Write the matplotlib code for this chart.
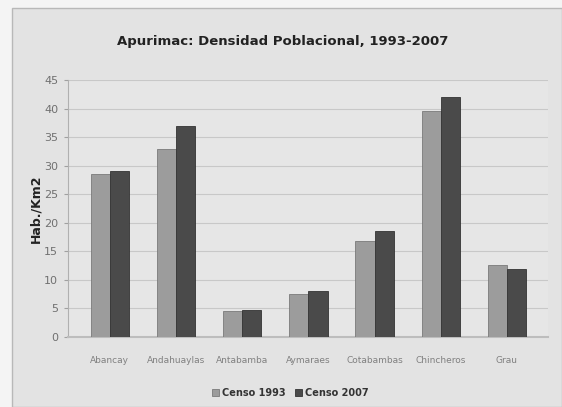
import matplotlib
matplotlib.use("Agg")
import matplotlib.pyplot as plt
import numpy as np
from matplotlib.patches import Rectangle

categories = ["Abancay", "Andahuaylas", "Antabamba", "Aymaraes", "Cotabambas", "Chincheros", "Grau"]
censo_1993 = [28.5, 33.0, 4.6, 7.6, 16.8, 39.5, 12.6]
censo_2007 = [29.0, 37.0, 4.7, 8.0, 18.5, 42.0, 11.9]
yticks = [0, 5, 10, 15, 20, 25, 30, 35, 40, 45]
title = "Apurimac: Densidad Poblacional, 1993-2007"
ylabel = "Hab./Km2"
legend_labels = ["Censo 1993", "Censo 2007"]

fig = plt.figure(figsize=(5.62, 4.07), dpi=100)
fig.patch.set_facecolor("#f4f4f4")
# chart frame
frame = Rectangle((12/562, 0.0), 1 - 12/562, 1 - 8/407, transform=fig.transFigure,
                  facecolor="#e3e3e3", edgecolor="#b8b8b8", lw=1.0, zorder=-10)
fig.patches.append(frame)

ax = fig.add_axes([68/562, 1 - 337/407, (548-68)/562, (337-80)/407])
ax.set_facecolor("#e6e6e6")
x = np.arange(len(categories))
w = 0.29
ax.bar(x - w/2, censo_1993, width=w, color="#9c9c9c", edgecolor="#7a7a7a", lw=0.6, zorder=3,
       label=legend_labels[0])
ax.bar(x + w/2, censo_2007, width=w, color="#4a4a4a", edgecolor="#333333", lw=0.6, zorder=3,
       label=legend_labels[1])

ax.set_xlim(-0.63, 6.62)
ax.set_ylim(0, 45)
ax.set_yticks(yticks)
ax.set_yticklabels([str(t) for t in yticks], fontsize=8, color="#707070")
ax.set_xticks(x)
ax.set_xticklabels(categories, fontsize=6.5, color="#808080")
ax.tick_params(axis="x", length=0, pad=14)
ax.tick_params(axis="y", length=3, color="#a0a0a0", pad=4)
ax.yaxis.grid(True, color="#c8c8c8", lw=0.8, zorder=0)
for s in ["top", "right"]:
    ax.spines[s].set_visible(False)
ax.spines["left"].set_color("#b0b0b0")
ax.spines["bottom"].set_color("#bdbdbd")
ax.spines["bottom"].set_linewidth(1.5)

ax.set_ylabel(ylabel, fontsize=9, fontweight="bold", color="#222222", labelpad=1)
fig.text(283/562, 1 - 42/407, title, ha="center", va="center", fontsize=9.5,
         fontweight="bold", color="#222222")

leg = fig.legend(loc="center", bbox_to_anchor=(290/562, 1 - 393/407), ncol=2, frameon=False,
                 fontsize=7, handlelength=0.7, handleheight=0.7, columnspacing=1.0,
                 handletextpad=0.3)
for t in leg.get_texts():
    t.set_color("#333333")
    t.set_fontweight("bold")

fig.savefig("out.png", dpi=100, facecolor=fig.get_facecolor())
